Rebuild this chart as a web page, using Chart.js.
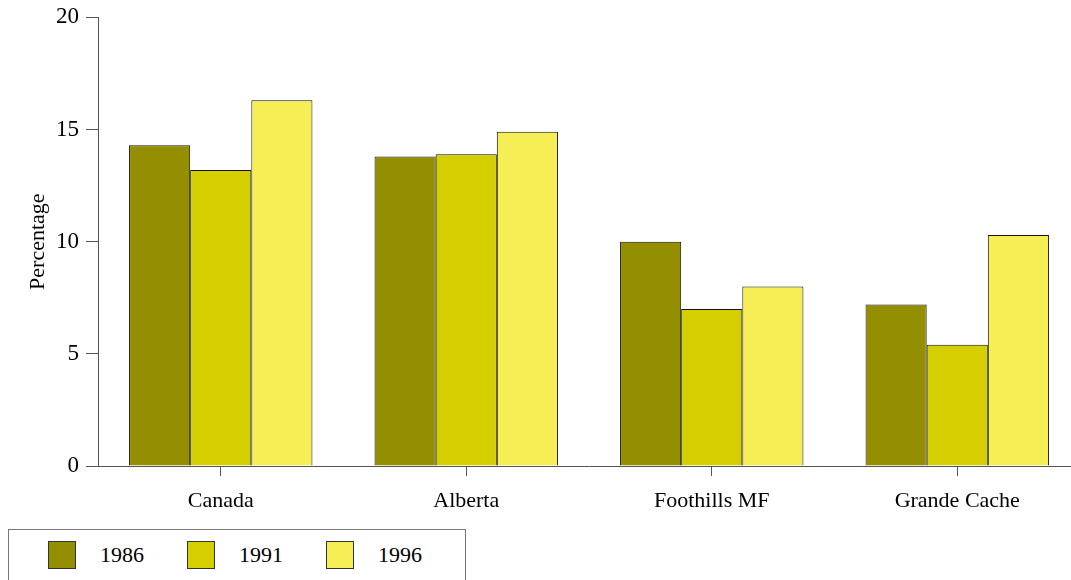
<!DOCTYPE html>
<html><head><meta charset="utf-8">
<script src="https://cdn.jsdelivr.net/npm/chart.js@4/dist/chart.umd.min.js"></script>
<style>
html,body{margin:0;padding:0;overflow:hidden;background:#fff;width:1071px;height:580px;}
#wrap{position:absolute;left:0;top:0;width:1080px;height:525px;}
#legend{position:absolute;left:8px;top:529px;width:458px;height:60px;border:1px solid #777;box-sizing:border-box;font-family:"Liberation Serif","Times New Roman",serif;font-size:22px;color:#000;}
.item{position:absolute;top:11px;height:28px;}
.sw{position:absolute;left:0;top:0;width:28px;height:28px;box-sizing:border-box;border:1px solid #333;}
.lb{position:absolute;left:52px;top:2px;line-height:24px;}
</style></head><body>
<div id="wrap"><canvas id="c" width="1080" height="525"></canvas></div>
<div id="legend"></div>
<script>
const categories = ["Canada", "Alberta", "Foothills MF", "Grande Cache"];
const seriesNames = ["1986", "1991", "1996"];
const values1986 = [14.3, 13.8, 10.0, 7.2];
const values1991 = [13.2, 13.9, 7.0, 5.4];
const values1996 = [16.3, 14.9, 8.0, 10.3];
const colors = ["#948f00", "#d6cf00", "#f5ef55"];
const yTicks = [0, 5, 10, 15, 20];

const seriesValues = [values1986, values1991, values1996];
const font = "'Liberation Serif', 'Times New Roman', serif";
const chart = new Chart(document.getElementById('c'), {
  type: 'bar',
  data: {
    labels: categories,
    datasets: seriesNames.map((n, i) => ({
      label: n, data: seriesValues[i], backgroundColor: colors[i],
      borderColor: '#111', borderWidth: 1, categoryPercentage: 0.747, barPercentage: 1.0
    }))
  },
  options: {
    responsive: false, animation: false,
    layout: { padding: { top: 17, right: 0, left: 0, bottom: 0 } },
    plugins: { legend: { display: false }, tooltip: { enabled: false } },
    scales: {
      x: {
        grid: { display: true, drawOnChartArea: false, offset: false, tickLength: 10, color: '#555' },
        border: { display: true, color: '#555' },
        ticks: { color: '#000', font: { family: font, size: 22 }, padding: 12 },
        afterFit: s => { s.height = 525 - 466; }
      },
      y: {
        min: 0, max: 20,
        afterBuildTicks: s => { s.ticks = yTicks.map(v => ({ value: v })); },
        grid: { display: true, drawOnChartArea: false, tickLength: 12, color: '#555' },
        border: { display: true, color: '#555' },
        ticks: { color: '#000', font: { family: font, size: 23, lineHeight: 0.9 }, padding: 7 },
        title: { display: true, text: 'Percentage', color: '#000', font: { family: font, size: 22 }, padding: { top: 25, bottom: 0 } },
        afterFit: s => { s.width = 98; }
      }
    }
  }
});

const lg = document.getElementById('legend');
const lefts = [39, 178, 317];
chart.data.datasets.forEach((d, i) => {
  const it = document.createElement('div');
  it.className = 'item'; it.style.left = lefts[i] + 'px';
  it.innerHTML = '<div class="sw" style="background:' + d.backgroundColor + '"></div><div class="lb">' + d.label + '</div>';
  lg.appendChild(it);
});
</script>
</body></html>
